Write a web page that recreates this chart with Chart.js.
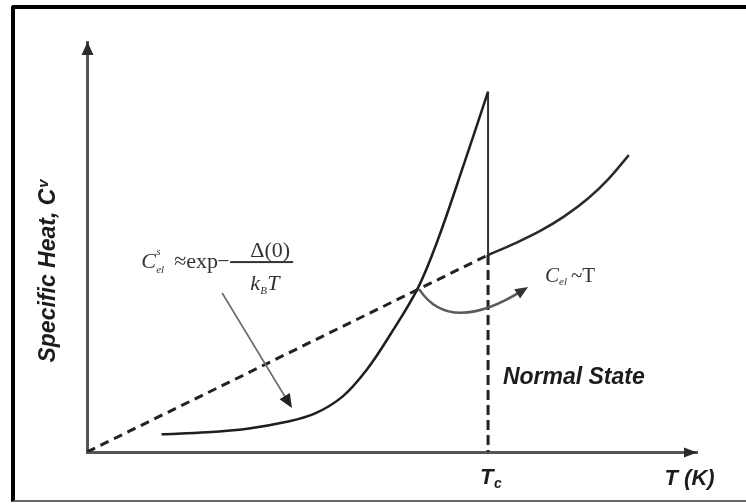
<!DOCTYPE html>
<html>
<head>
<meta charset="utf-8">
<title>Specific heat of a superconductor</title>
<script src="https://cdn.jsdelivr.net/npm/chart.js"></script>
<style>
  html, body { margin: 0; padding: 0; background: #fff; }
  #wrap { position: relative; width: 746px; height: 504px; overflow: hidden; }
  #frame {
    position: absolute; left: 11px; top: 5px; right: -10px; bottom: 2px;
    border-top: 4px solid #000; border-left: 4px solid #000; border-bottom: 2px solid #666;
    border-top-left-radius: 3px;
  }
  canvas { position: absolute; left: 0; top: 0; }
</style>
</head>
<body>
<div id="wrap">
  <div id="frame"></div>
  <canvas id="chart" width="746" height="504"></canvas>
</div>
<script>
// temperature in units of Tc, specific heat in units of C_n(Tc)
const Tc = 1;
const tMax = 1.521;
const cMax = 2.081;

// normal-state electronic part, extrapolated below Tc (dashed)
const normalBelowT = [0, 1];
const normalBelowC = [0, 1];

// normal state above Tc
const normalAboveT = [1.0, 1.07, 1.13, 1.19, 1.25, 1.30, 1.351];
const normalAboveC = [1.0, 1.062, 1.122, 1.196, 1.288, 1.385, 1.507];

// superconducting state
const superT = [0.186, 0.30, 0.40, 0.495, 0.566, 0.637, 0.697, 0.756, 0.825, 0.875, 0.94, 1.0];
const superC = [0.090, 0.100, 0.118, 0.152, 0.193, 0.281, 0.416, 0.595, 0.832, 1.078, 1.462, 1.829];

// jump at Tc: top of the peak down to the normal value, then dashed to the axis
const jumpC = [1.829, 1.0];
const dropC = [1.0, 0];

const xTickLabels = ["T", "c"];
const xTitle = "T (K)";
const yTitle = ["Specific Heat, C", "v"];

const pts = (xs, ys) => xs.map((v, i) => ({ x: v, y: ys[i] }));

function arrowHead(ctx, tx, ty, ang, len, half) {
  const bx = tx - len * Math.cos(ang), by = ty - len * Math.sin(ang);
  ctx.beginPath();
  ctx.moveTo(tx, ty);
  ctx.lineTo(bx + half * Math.sin(ang), by - half * Math.cos(ang));
  ctx.lineTo(bx - half * Math.sin(ang), by + half * Math.cos(ang));
  ctx.closePath();
  ctx.fill();
}

const sketch = {
  id: "sketch",
  afterDraw(chart) {
    const { ctx, chartArea: a, scales } = chart;
    const px = (t, c) => [scales.x.getPixelForValue(t), scales.y.getPixelForValue(c)];
    ctx.save();

    // axis arrows
    ctx.fillStyle = "#2a2a2a";
    arrowHead(ctx, a.left + 0.5, a.top, Math.PI * 1.5, 13, 6);
    arrowHead(ctx, a.right, a.bottom + 0.5, 0, 13, 5);

    // pointer from the formula to the superconducting curve
    ctx.strokeStyle = "#6a6a6a";
    ctx.fillStyle = "#222";
    ctx.lineWidth = 1.6;
    const [s0x, s0y] = px(0.337, 0.807);
    const [s1x, s1y] = px(0.511, 0.223);
    const sAng = Math.atan2(s1y - s0y, s1x - s0x);
    ctx.beginPath();
    ctx.moveTo(s0x, s0y);
    ctx.lineTo(s1x - 8 * Math.cos(sAng), s1y - 8 * Math.sin(sAng));
    ctx.stroke();
    arrowHead(ctx, s1x, s1y, sAng, 14, 6);

    // curved pointer to the normal-state law
    ctx.strokeStyle = "#5a5a5a";
    ctx.lineWidth = 2.5;
    const [c0x, c0y] = px(0.828, 0.827);
    const [c1x, c1y] = px(0.905, 0.589);
    const [c2x, c2y] = px(1.100, 0.838);
    const cAng = Math.atan2(c2y - c1y, c2x - c1x);
    ctx.beginPath();
    ctx.moveTo(c0x, c0y);
    ctx.quadraticCurveTo(c1x, c1y, c2x - 6 * Math.cos(cAng), c2y - 6 * Math.sin(cAng));
    ctx.stroke();
    ctx.fillStyle = "#333";
    arrowHead(ctx, c2x, c2y, cAng, 13, 5.5);

    // C_el^s ≈ exp − Δ(0) / k_B T
    ctx.fillStyle = "#333";
    ctx.textAlign = "left";
    ctx.textBaseline = "alphabetic";
    const [fx, fy] = px(0.135, 0.964);
    ctx.font = "italic 22px 'Liberation Serif'";
    ctx.fillText("C", fx, fy + 6);
    ctx.font = "italic 11px 'Liberation Serif'";
    ctx.fillText("s", fx + 15, fy - 7);
    ctx.fillText("el", fx + 15, fy + 11);
    ctx.font = "22px 'Liberation Serif'";
    ctx.fillText("\u2248", fx + 33, fy + 6);
    ctx.fillText("exp", fx + 45, fy + 6);
    ctx.fillText("\u2212", fx + 76, fy + 6);
    ctx.fillRect(fx + 89, fy - 1, 63, 2);
    ctx.textAlign = "center";
    ctx.fillText("\u0394(0)", fx + 129, fy - 5);
    ctx.textAlign = "left";
    ctx.font = "italic 22px 'Liberation Serif'";
    ctx.fillText("k", fx + 109, fy + 28);
    ctx.fillText("T", fx + 126, fy + 28);
    ctx.font = "italic 11px 'Liberation Serif'";
    ctx.fillText("B", fx + 119, fy + 32);

    // C_el ~ T
    const [nx, ny] = px(1.142, 0.863);
    ctx.font = "italic 21px 'Liberation Serif'";
    ctx.fillText("C", nx, ny);
    ctx.font = "italic 11px 'Liberation Serif'";
    ctx.fillText("el", nx + 14, ny + 3);
    ctx.font = "21px 'Liberation Serif'";
    ctx.fillText("~T", nx + 26, ny);

    // Normal State
    ctx.fillStyle = "#1c1c1c";
    ctx.font = "italic bold 23px 'Liberation Sans'";
    const [lx, ly] = px(1.037, 0.345);
    ctx.fillText("Normal State", lx, ly);

    // x-axis tick label T_c and axis title
    const tcX = scales.x.getPixelForValue(Tc);
    ctx.font = "italic bold 22px 'Liberation Sans'";
    ctx.fillText(xTickLabels[0], tcX - 8, a.bottom + 32);
    ctx.font = "italic bold 14px 'Liberation Sans'";
    ctx.fillText(xTickLabels[1], tcX + 6, a.bottom + 36);
    ctx.font = "italic bold 22px 'Liberation Sans'";
    ctx.fillText(xTitle, scales.x.getPixelForValue(1.44), a.bottom + 33);

    // y-axis title, rotated
    ctx.translate(a.left - 32, scales.y.getPixelForValue(0.919));
    ctx.rotate(-Math.PI / 2);
    ctx.font = "italic bold 23px 'Liberation Sans'";
    const w1 = ctx.measureText(yTitle[0]).width;
    ctx.font = "italic bold 15px 'Liberation Sans'";
    const w2 = ctx.measureText(yTitle[1]).width;
    const start = -(w1 + w2 + 1) / 2;
    ctx.font = "italic bold 23px 'Liberation Sans'";
    ctx.fillText(yTitle[0], start, 0);
    ctx.font = "italic bold 15px 'Liberation Sans'";
    ctx.fillText(yTitle[1], start + w1 + 1, -7);

    ctx.restore();
  }
};

const line = (data, extra) => Object.assign({
  data,
  borderColor: "#1e1e1e",
  borderWidth: 2.5,
  pointRadius: 0,
  fill: false,
  tension: 0,
}, extra);

new Chart(document.getElementById("chart"), {
  type: "line",
  data: {
    datasets: [
      line(pts(normalBelowT, normalBelowC), { borderDash: [9, 6], borderWidth: 3, borderColor: "#222" }),
      line(pts(normalAboveT, normalAboveC), { tension: 0.35, borderColor: "#2a2a2a" }),
      line(pts(superT, superC), { tension: 0.35 }),
      line(pts([Tc, Tc], jumpC), { borderWidth: 2, borderColor: "#333" }),
      line(pts([Tc, Tc], dropC), { borderDash: [10, 5], borderWidth: 3, borderColor: "#222" }),
    ],
  },
  options: {
    responsive: false,
    animation: false,
    devicePixelRatio: 1,
    layout: { padding: { left: 87, right: 49, top: 42, bottom: 52 } },
    plugins: { legend: { display: false }, tooltip: { enabled: false } },
    scales: {
      x: {
        type: "linear",
        min: 0,
        max: tMax,
        grid: { display: false, drawTicks: false },
        ticks: { display: false },
        border: { display: true, color: "#555", width: 3 },
        afterFit: (s) => { s.height = 0; },
      },
      y: {
        type: "linear",
        min: 0,
        max: cMax,
        grid: { display: false, drawTicks: false },
        ticks: { display: false },
        border: { display: true, color: "#555", width: 3 },
        afterFit: (s) => { s.width = 0; },
      },
    },
  },
  plugins: [sketch],
});
</script>
</body>
</html>
